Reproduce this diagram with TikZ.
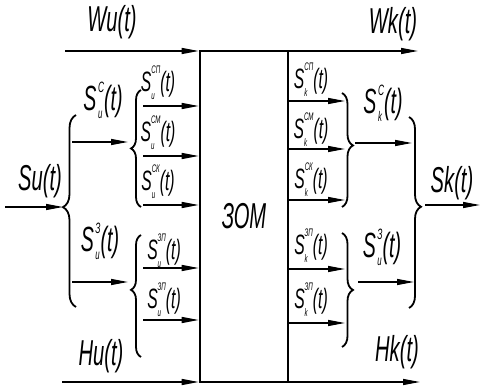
\documentclass[tikz,border=0pt]{standalone}
\usepackage{fontspec}
\setmainfont{Liberation Sans}[FakeStretch=0.56]
\usetikzlibrary{arrows.meta,decorations.pathreplacing}
\newcommand{\sgm}[2]{S\kern1.5pt\rlap{\raisebox{-0.22em}{\fontsize{14}{14}\selectfont #1}}\raisebox{0.52em}{\fontsize{15}{15}\selectfont #2}(t)}
\newcommand{\sgs}[2]{S\rlap{\raisebox{-0.3em}{\fontsize{11}{11}\selectfont #1}}\raisebox{0.62em}{\fontsize{11}{11}\selectfont #2}(t)}
\begin{document}
\begin{tikzpicture}[x=1pt,y=-1pt,
  arr/.style={line width=1.3pt,-{Triangle[length=17pt,width=6pt]}},
  brc/.style={decorate,decoration={brace,amplitude=#1},line width=1.8pt},
  bigf/.style={font=\fontsize{36}{38}\selectfont\itshape,inner sep=0pt},
  midf/.style={font=\fontsize{35}{37}\selectfont\itshape,inner sep=0pt},
  smlf/.style={font=\fontsize{28}{30}\selectfont\itshape,inner sep=0pt}]
\useasboundingbox (0,0) rectangle (480,387);
% main block
\node[draw,line width=2.6pt,minimum width=88pt,minimum height=331pt,inner sep=0pt,bigf] (zom) at (244,216.5) {ЗОМ};
% main labels
\node[bigf] (wu) at (112,22) {Wu(t)};
\node[bigf] (wk) at (393,24) {Wk(t)};
\node[bigf] (su) at (40,181) {Su(t)};
\node[bigf] (sk) at (452,183) {Sk(t)};
\node[bigf] (hu) at (101,356) {Hu(t)};
\node[bigf] (hk) at (397,352) {Hk(t)};
% middle labels
\node[midf] (suc) at (103,100) {\sgm{u}{С}};
\node[midf] (suz) at (100,241) {\sgm{u}{З}};
\node[midf] (skc) at (383,103) {\sgm{k}{С}};
\node[midf] (skz) at (382,247) {\sgm{u}{З}};
% small labels left
\node[smlf] (l1) at (158,83) {\sgs{u}{СП}};
\node[smlf] (l2) at (158,133) {\sgs{u}{СМ}};
\node[smlf] (l3) at (158,182) {\sgs{u}{СК}};
\node[smlf] (l4) at (164,251) {\sgs{u}{ЗП}};
\node[smlf] (l5) at (164,300) {\sgs{u}{ЗП}};
% small labels right
\node[smlf] (r1) at (311,80) {\sgs{k}{СП}};
\node[smlf] (r2) at (311,130) {\sgs{k}{СМ}};
\node[smlf] (r3) at (311,180) {\sgs{k}{СК}};
\node[smlf] (r4) at (311,246) {\sgs{k}{ЗП}};
\node[smlf] (r5) at (311,300) {\sgs{k}{ЗП}};
% coordinates
\coordinate (wu0) at (65,51);
\coordinate (wk1) at (418,51);
\coordinate (hu0) at (62,382);
\coordinate (hk1) at (420,382);
\coordinate (su0) at (5,207);
\coordinate (sutip) at (63,207);
\coordinate (ma1) at (72,142); \coordinate (ma1e) at (128,142);
\coordinate (ma2) at (72,282); \coordinate (ma2e) at (128,282);
\coordinate (la1) at (143,106);
\coordinate (la2) at (143,156);
\coordinate (la3) at (143,205);
\coordinate (la4) at (143,268);
\coordinate (la5) at (143,320);
\coordinate (ra1) at (345,101);
\coordinate (ra2) at (345,149);
\coordinate (ra3) at (345,200);
\coordinate (ra4) at (345,269);
\coordinate (ra5) at (345,323);
\coordinate (mr1) at (355,143); \coordinate (mr1e) at (412,143);
\coordinate (mr2) at (358,282); \coordinate (mr2e) at (414,282);
\coordinate (sk0) at (425,205); \coordinate (sk1) at (480,205);
% brace ends
\coordinate (bL1) at (76,307); \coordinate (bL2) at (76,115);
\coordinate (bl1) at (141,207); \coordinate (bl2) at (141,90);
\coordinate (bl3) at (141,357); \coordinate (bl4) at (141,235);
\coordinate (br1) at (342,93); \coordinate (br2) at (342,207);
\coordinate (br3) at (342,233); \coordinate (br4) at (342,347);
\coordinate (bR1) at (409,117); \coordinate (bR2) at (409,308);
% braces
\draw[brc=13pt,decoration={aspect=0.52}] (bL1) -- (bL2);
\draw[brc=10pt,decoration={aspect=0.5}] (bl1) -- (bl2);
\draw[brc=10pt,decoration={aspect=0.55}] (bl3) -- (bl4);
\draw[brc=11pt,decoration={aspect=0.46}] (br1) -- (br2);
\draw[brc=11pt,decoration={aspect=0.5}] (br3) -- (br4);
\draw[brc=12pt,decoration={aspect=0.47}] (bR1) -- (bR2);
% arrows
\draw[arr] (wu0) -- (wu0 -| zom.west);
\draw[arr] (wu0 -| zom.east) -- (wk1);
\draw[arr] (hu0) -- (hu0 -| zom.west);
\draw[arr] (hu0 -| zom.east) -- (hk1);
\draw[arr] (su0) -- (sutip);
\draw[arr] (ma1) -- (ma1e);
\draw[arr] (ma2) -- (ma2e);
\foreach \c in {la1,la2,la3,la4,la5} \draw[arr] (\c) -- (\c -| zom.west);
\foreach \c in {ra1,ra2,ra3,ra4,ra5} \draw[arr] (\c -| zom.east) -- (\c);
\draw[arr] (mr1) -- (mr1e);
\draw[arr] (mr2) -- (mr2e);
\draw[arr] (sk0) -- (sk1);
\end{tikzpicture}
\end{document}
